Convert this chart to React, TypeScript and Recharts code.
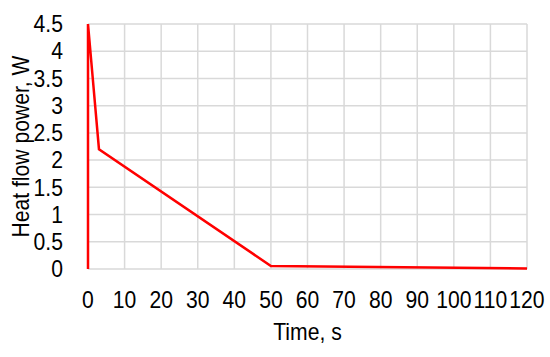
import React from 'react';
import { LineChart, Line, XAxis, YAxis, CartesianGrid, Label } from 'recharts';

// heat flow power trace
const timeS = [0, 0, 3, 50, 120];
const powerW = [0, 4.5, 2.2, 0.055, 0.01];

const xTicks = [0, 10, 20, 30, 40, 50, 60, 70, 80, 90, 100, 110, 120];
const yTicks = [0, 0.5, 1, 1.5, 2, 2.5, 3, 3.5, 4, 4.5];

const data = timeS.map((t, i) => ({ time: t, power: powerW[i] }));

// the original text is a slightly condensed Arial; squeeze Liberation Sans a little
const FONT = '"Liberation Sans", Arial, sans-serif';
const SIZE = 23;
const SQUEEZE = 'scale(0.92,1)';

const XTick = (props: any) => {
  const { x, y, payload } = props;
  return (
    <g transform={`translate(${x},${y})`}>
      <text transform={SQUEEZE} textAnchor="middle" dy="0.71em" fontFamily={FONT} fontSize={SIZE} fill="#000">
        {payload.value}
      </text>
    </g>
  );
};

const YTick = (props: any) => {
  const { x, y, payload } = props;
  return (
    <g transform={`translate(${x},${y})`}>
      <text transform={SQUEEZE} textAnchor="end" dy="0.355em" fontFamily={FONT} fontSize={SIZE} fill="#000">
        {payload.value}
      </text>
    </g>
  );
};

const XTitle = (props: any) => {
  const { x, y, width, height } = props.viewBox;
  return (
    <g transform={`translate(${x + width / 2},${y + height - 17})`}>
      <text transform={SQUEEZE} textAnchor="middle" fontFamily={FONT} fontSize={SIZE} fill="#000">
        Time, s
      </text>
    </g>
  );
};

const YTitle = (props: any) => {
  const { y, height } = props.viewBox;
  return (
    <g transform={`translate(21,${y + height / 2}) rotate(-90)`}>
      <text transform={SQUEEZE} textAnchor="middle" dy="0.355em" fontFamily={FONT} fontSize={SIZE} fill="#000">
        Heat flow power, W
      </text>
    </g>
  );
};

const App: React.FC = () => {
  return (
    <div style={{ position: 'absolute', left: 0, top: 0, width: 550, height: 357, background: '#fff' }}>
      <LineChart width={550} height={357} data={data} margin={{ top: 24, right: 23, bottom: 0, left: 0 }}>
        <CartesianGrid stroke="#d9d9d9" strokeWidth={1.5} />
        <XAxis
          dataKey="time"
          type="number"
          domain={[0, 120]}
          ticks={xTicks}
          interval={0}
          height={88}
          axisLine={false}
          tickLine={false}
          tickSize={0}
          tickMargin={23}
          tick={<XTick />}
        >
          <Label content={<XTitle />} />
        </XAxis>
        <YAxis
          type="number"
          domain={[0, 4.5]}
          ticks={yTicks}
          interval={0}
          width={88}
          axisLine={false}
          tickLine={false}
          tickSize={0}
          tickMargin={25}
          tick={<YTick />}
        >
          <Label content={<YTitle />} />
        </YAxis>
        <Line
          type="linear"
          dataKey="power"
          stroke="#ff0000"
          strokeWidth={2.5}
          dot={false}
          isAnimationActive={false}
        />
      </LineChart>
    </div>
  );
};

export default App;
